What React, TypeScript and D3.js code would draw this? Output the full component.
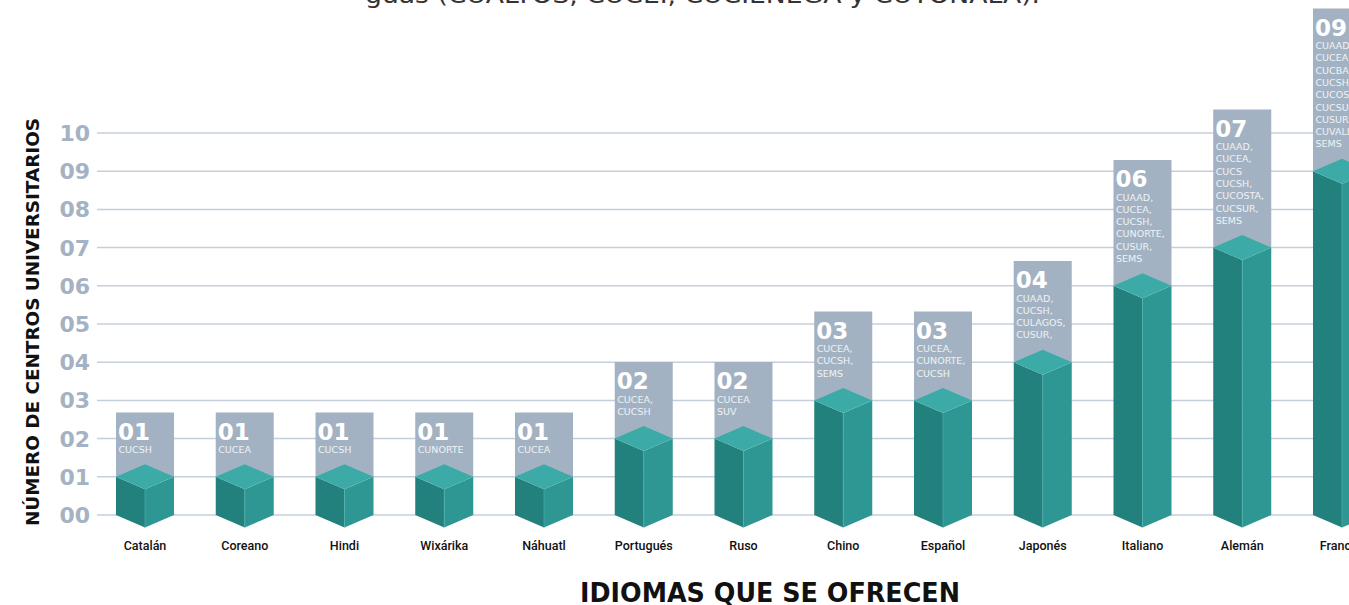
import React from "react";
import * as d3 from "d3";

const categories = ["Catalán", "Coreano", "Hindi", "Wixárika", "Náhuatl", "Portugués", "Ruso", "Chino", "Español", "Japonés", "Italiano", "Alemán", "Francés"];
const values = [1, 1, 1, 1, 1, 2, 2, 3, 3, 4, 6, 7, 9];
const centers: string[][] = [
  ["CUCSH"],
  ["CUCEA"],
  ["CUCSH"],
  ["CUNORTE"],
  ["CUCEA"],
  ["CUCEA,", "CUCSH"],
  ["CUCEA", "SUV"],
  ["CUCEA,", "CUCSH,", "SEMS"],
  ["CUCEA,", "CUNORTE,", "CUCSH"],
  ["CUAAD,", "CUCSH,", "CULAGOS,", "CUSUR,"],
  ["CUAAD,", "CUCEA,", "CUCSH,", "CUNORTE,", "CUSUR,", "SEMS"],
  ["CUAAD,", "CUCEA,", "CUCS", "CUCSH,", "CUCOSTA,", "CUCSUR,", "SEMS"],
  ["CUAAD,", "CUCEA,", "CUCBA,", "CUCSH,", "CUCOSTA,", "CUCSUR,", "CUSUR,", "CUVALLES,", "SEMS"],
];
const yTicks = [0, 1, 2, 3, 4, 5, 6, 7, 8, 9, 10];
const titleFragment = "guas (CUALTOS, CUCEI, CUCIENEGA y CUTONALA).";
const yTitle = "NÚMERO DE CENTROS UNIVERSITARIOS";
const xTitle = "IDIOMAS QUE SE OFRECEN";

const W = 1349;
const H = 605;

export default function App() {
  const x = d3.scaleBand<string>().domain(categories).range([95.12, 1391.87]).paddingInner(0.4185).paddingOuter(0.20925);
  const y = d3.scaleLinear().domain([0, 10]).range([515, 133]);
  const bw = x.bandwidth();
  const d = 12.5;
  const pad = (n: number) => d3.format("02d")(n);
  const sans = "'DejaVu Sans', sans-serif";

  return (
    <svg width={W} height={H} style={{ position: "absolute", left: 0, top: 0, background: "#fff" }}>
      <text x={365} y={3} fontFamily={sans} fontSize={23} fill="#333" textLength={675} lengthAdjust="spacingAndGlyphs">{titleFragment}</text>
      {yTicks.map((t) => (
        <g key={t}>
          <line x1={97} x2={W} y1={y(t)} y2={y(t)} stroke="#c4cfdb" strokeWidth={1.5} />
          <text x={90} y={y(t) + 8} textAnchor="end" fontFamily={sans} fontWeight={700} fontSize={22} fill="#a4b2c3">{pad(t)}</text>
        </g>
      ))}
      <text transform={`translate(39,322) rotate(-90)`} textAnchor="middle" fontFamily={sans} fontWeight={700} fontSize={17} fill="#111" textLength={408} lengthAdjust="spacingAndGlyphs">{yTitle}</text>
      {categories.map((c, i) => {
        const x0 = x(c)!;
        const x1 = x0 + bw;
        const xc = x0 + bw / 2;
        const v = values[i];
        const vy = y(v);
        const by = y(0);
        const lines = centers[i];
        const boxH = 31 + lines.length * 12.3 + 21;
        const top = vy - boxH;
        const numY = top + 27;
        return (
          <g key={c}>
            <rect x={x0} y={top} width={bw} height={boxH} fill="#a3b2c2" />
            <text x={x0 + 2} y={numY} fontFamily={sans} fontWeight={700} fontSize={23} fill="#fff">{pad(v)}</text>
            {lines.map((l, j) => (
              <text key={j} x={x0 + 2.5} y={numY + 13.5 + j * 12.3} fontFamily={sans} fontSize={9.5} fill="#eef2f6">{l}</text>
            ))}
            <path d={`M${x0},${vy} L${xc},${vy + d} L${xc},${by + d} L${x0},${by} Z`} fill="#23817d" />
            <path d={`M${xc},${vy + d} L${x1},${vy} L${x1},${by} L${xc},${by + d} Z`} fill="#2e9794" />
            <path d={`M${x0},${vy} L${xc},${vy - d} L${x1},${vy} L${xc},${vy + d} Z`} fill="#3caaa7" />
            <line x1={xc} x2={xc} y1={vy + d} y2={by + d} stroke="#4fb3b0" strokeWidth={0.6} />
            <text x={xc} y={550} textAnchor="middle" fontFamily="Roboto, sans-serif" fontWeight={500} fontSize={12.5} fill="#111">{c}</text>
          </g>
        );
      })}
      <text x={770} y={602} textAnchor="middle" fontFamily={sans} fontWeight={700} fontSize={27} fill="#111" textLength={380} lengthAdjust="spacingAndGlyphs">{xTitle}</text>
    </svg>
  );
}
